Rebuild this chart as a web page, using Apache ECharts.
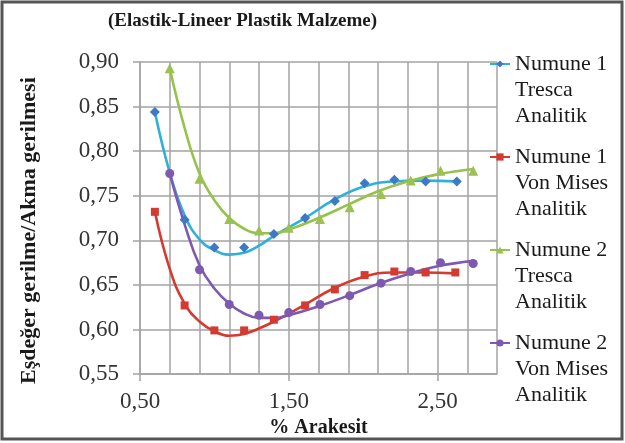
<!DOCTYPE html>
<html>
<head>
<meta charset="utf-8">
<script src="https://cdn.jsdelivr.net/npm/echarts@6/dist/echarts.min.js"></script>
<style>
  html, body { margin: 0; padding: 0; background: #fff; }
  #ec { width: 625px; height: 443px; }
</style>
</head>
<body>
<div id="ec"></div>
<script>
  // measured points
  const n1TrescaX = [0.6, 0.8, 1.0, 1.2, 1.4, 1.61, 1.81, 2.01, 2.21, 2.42, 2.63]
  const n1TrescaY = [0.844, 0.723, 0.692, 0.692, 0.707, 0.725, 0.744, 0.764, 0.768, 0.766, 0.766]
  const n1MisesX = [0.6, 0.8, 1.0, 1.2, 1.4, 1.61, 1.81, 2.01, 2.21, 2.42, 2.62]
  const n1MisesY = [0.732, 0.627, 0.599, 0.599, 0.611, 0.627, 0.645, 0.661, 0.665, 0.664, 0.664]
  const n2TrescaX = [0.7, 0.9, 1.1, 1.3, 1.5, 1.71, 1.91, 2.12, 2.32, 2.52, 2.74]
  const n2TrescaY = [0.893, 0.769, 0.724, 0.711, 0.714, 0.724, 0.737, 0.752, 0.767, 0.778, 0.778]
  const n2MisesX = [0.7, 0.9, 1.1, 1.3, 1.5, 1.71, 1.91, 2.12, 2.32, 2.52, 2.74]
  const n2MisesY = [0.775, 0.667, 0.628, 0.616, 0.619, 0.628, 0.638, 0.652, 0.665, 0.675, 0.674]

  // trend curves
  const n1TrescaTrendX = [0.6, 0.7, 0.8, 0.9, 1.0, 1.1, 1.2, 1.3, 1.4, 1.6, 1.8, 2.0, 2.2, 2.4, 2.63]
  const n1TrescaTrendY = [0.844, 0.776, 0.728, 0.701, 0.689, 0.684, 0.686, 0.694, 0.705, 0.724, 0.745, 0.760, 0.766, 0.767, 0.766]
  const n1MisesTrendX = [0.6, 0.7, 0.8, 0.9, 1.0, 1.1, 1.2, 1.4, 1.6, 1.8, 2.0, 2.2, 2.4, 2.62]
  const n1MisesTrendY = [0.732, 0.668, 0.629, 0.609, 0.598, 0.593, 0.595, 0.609, 0.627, 0.646, 0.659, 0.664, 0.664, 0.663]
  const n2TrescaTrendX = [0.7, 0.8, 0.9, 1.0, 1.1, 1.2, 1.3, 1.4, 1.5, 1.7, 1.9, 2.1, 2.3, 2.5, 2.74]
  const n2TrescaTrendY = [0.893, 0.826, 0.775, 0.745, 0.725, 0.713, 0.708, 0.708, 0.712, 0.725, 0.740, 0.755, 0.766, 0.774, 0.780]
  const n2MisesTrendX = [0.7, 0.8, 0.9, 1.0, 1.1, 1.2, 1.3, 1.4, 1.5, 1.7, 1.9, 2.1, 2.3, 2.5, 2.74]
  const n2MisesTrendY = [0.775, 0.718, 0.672, 0.646, 0.629, 0.618, 0.613, 0.613, 0.616, 0.626, 0.638, 0.651, 0.662, 0.671, 0.677]

  const seriesNames = [
    'Numune 1\nTresca\nAnalitik',
    'Numune 1\nVon Mises\nAnalitik',
    'Numune 2\nTresca\nAnalitik',
    'Numune 2\nVon Mises\nAnalitik'
  ]
  const xLabelValues = [0.5, 1.5, 2.5]

  const font = '"Liberation Serif", "Times New Roman", serif'
  const grid = '#a3a3a3'

  function zip(xs, ys) {
    return xs.map((x, i) => [x, ys[i]])
  }
  function fmt(v) {
    return v.toFixed(2).replace('.', ',')
  }

  const looks = [
    { symbol: 'diamond', size: 10, dot: '#3f78c4', line: '#2fb0dc', pts: zip(n1TrescaX, n1TrescaY), trend: zip(n1TrescaTrendX, n1TrescaTrendY) },
    { symbol: 'rect', size: 8, dot: '#d23a32', line: '#d63a2f', pts: zip(n1MisesX, n1MisesY), trend: zip(n1MisesTrendX, n1MisesTrendY) },
    { symbol: 'triangle', size: 10, dot: '#9bc150', line: '#95c24a', pts: zip(n2TrescaX, n2TrescaY), trend: zip(n2TrescaTrendX, n2TrescaTrendY) },
    { symbol: 'circle', size: 9, dot: '#7d5ab0', line: '#7f58b4', pts: zip(n2MisesX, n2MisesY), trend: zip(n2MisesTrendX, n2MisesTrendY) }
  ]

  const series = []
  looks.forEach((s, i) => {
    series.push({
      name: seriesNames[i],
      type: 'line',
      data: s.trend,
      smooth: 0.45,
      symbol: s.symbol,
      showSymbol: false,
      z: 2,
      itemStyle: { color: s.dot },
      lineStyle: { color: s.line, width: 2.6 }
    })
  })
  looks.forEach((s, i) => {
    series.push({
      name: seriesNames[i],
      type: 'scatter',
      data: s.pts,
      symbol: s.symbol,
      symbolSize: s.size,
      z: 3,
      itemStyle: { color: s.dot, opacity: 1 }
    })
  })

  const ec = echarts.init(document.getElementById('ec'))
  ec.setOption({
    animation: false,
    backgroundColor: '#fff',
    title: {
      text: '(Elastik-Lineer Plastik Malzeme)',
      left: 108,
      top: 12,
      padding: 0,
      textStyle: { fontFamily: font, fontWeight: 'bold', fontSize: 19, color: '#1a1a1a' }
    },
    graphic: [{
      type: 'rect',
      shape: { x: 2, y: 2, width: 620, height: 437 },
      style: { fill: 'none', stroke: '#555', lineWidth: 3 },
      silent: true
    }],
    legend: {
      data: seriesNames,
      orient: 'vertical',
      left: 484,
      top: -6,
      itemGap: -37,
      itemWidth: 20,
      itemHeight: 9,
      formatter: name => '\n\n' + name,
      textStyle: { fontFamily: font, fontSize: 22, lineHeight: 26, color: '#1a1a1a' }
    },
    grid: {
      left: 140,
      right: 128,
      top: 62,
      bottom: 66
    },
    xAxis: [{
      type: 'value',
      min: 0.5,
      max: 2.9,
      name: '% Arakesit',
      nameLocation: 'middle',
      nameGap: 41,
      nameTextStyle: { fontFamily: font, fontWeight: 'bold', fontSize: 20, color: '#1a1a1a' },
      axisLine: { lineStyle: { color: grid, width: 1.5 } },
      axisTick: { customValues: xLabelValues, length: 7, lineStyle: { color: grid, width: 1.5 } },
      axisLabel: {
        customValues: xLabelValues,
        formatter: fmt,
        margin: 16,
        fontFamily: font,
        fontSize: 23,
        color: '#333'
      },
      splitLine: { show: false }
    }, {
      // only draws the vertical grid every 0.2 starting at 0,50
      type: 'value',
      min: 0,
      max: 2.4,
      interval: 0.2,
      axisLine: { show: false },
      axisTick: { show: false },
      axisLabel: { show: false },
      splitLine: { show: true, lineStyle: { color: grid, width: 1.5 } }
    }],
    yAxis: {
      type: 'value',
      min: 0.55,
      max: 0.9,
      interval: 0.05,
      name: 'Eşdeğer gerilme/Akma gerilmesi',
      nameLocation: 'middle',
      nameGap: 100,
      nameTextStyle: { fontFamily: font, fontWeight: 'bold', fontSize: 22, color: '#1a1a1a', padding: [0, 25, 0, 0] },
      axisLine: { show: true, lineStyle: { color: grid, width: 1.5 } },
      axisTick: { show: true, length: 7, lineStyle: { color: grid, width: 1.5 } },
      axisLabel: {
        formatter: fmt,
        margin: 21,
        fontFamily: font,
        fontSize: 23,
        color: '#333'
      },
      splitLine: { lineStyle: { color: grid, width: 1.5 } }
    },
    series: series
  })
</script>
</body>
</html>
